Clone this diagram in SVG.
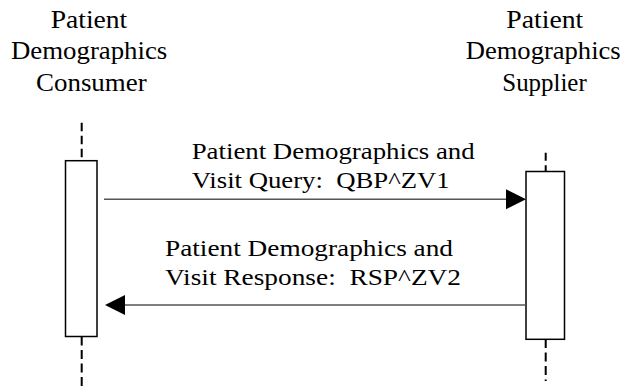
<svg xmlns="http://www.w3.org/2000/svg" width="629" height="386" viewBox="0 0 629 386">
<rect x="0" y="0" width="629" height="386" fill="#fff"/>
<g id="consumer">
  <text x="50.7" y="28" font-family="Liberation Serif" font-size="25" textLength="76.6" lengthAdjust="spacingAndGlyphs">Patient</text>
  <text x="11" y="59" font-family="Liberation Serif" font-size="25" textLength="156.3" lengthAdjust="spacingAndGlyphs">Demographics</text>
  <text x="36" y="90.5" font-family="Liberation Serif" font-size="25" textLength="110.7" lengthAdjust="spacingAndGlyphs">Consumer</text>
  <line x1="81.7" y1="122.7" x2="81.7" y2="160.5" stroke="#000" stroke-width="2" stroke-dasharray="8.5 4.5"/>
  <line x1="81.7" y1="336.5" x2="81.7" y2="386" stroke="#000" stroke-width="2" stroke-dasharray="9 4.5"/>
  <rect x="65.5" y="160.7" width="31.5" height="175.8" fill="#fff" stroke="#000" stroke-width="1.5"/>
</g>
<g id="supplier">
  <text x="506.3" y="28" font-family="Liberation Serif" font-size="25" textLength="77" lengthAdjust="spacingAndGlyphs">Patient</text>
  <text x="465.7" y="59" font-family="Liberation Serif" font-size="25" textLength="155" lengthAdjust="spacingAndGlyphs">Demographics</text>
  <text x="502.3" y="90.5" font-family="Liberation Serif" font-size="25" textLength="84.4" lengthAdjust="spacingAndGlyphs">Supplier</text>
  <line x1="545.7" y1="152.7" x2="545.7" y2="171.5" stroke="#000" stroke-width="2" stroke-dasharray="8 4.5"/>
  <line x1="545.7" y1="339" x2="545.7" y2="381" stroke="#000" stroke-width="2" stroke-dasharray="9 4.5"/>
  <rect x="526" y="171.5" width="38.5" height="167.8" fill="#fff" stroke="#000" stroke-width="1.5"/>
</g>
<g id="connectors">
  <g id="query">
    <line x1="104" y1="199.3" x2="507" y2="199.3" stroke="#555" stroke-width="1.6"/>
    <polygon points="506,189.3 526,199.3 506,209.3" fill="#000"/>
    <text x="191.7" y="158.5" font-family="Liberation Serif" font-size="24" textLength="283" lengthAdjust="spacingAndGlyphs">Patient Demographics and</text>
    <text x="191.7" y="188" font-family="Liberation Serif" font-size="24" textLength="258" lengthAdjust="spacingAndGlyphs">Visit Query:&#160; QBP^ZV1</text>
  </g>
  <g id="response">
    <line x1="526" y1="305" x2="124" y2="305" stroke="#555" stroke-width="1.6"/>
    <polygon points="125,295 105,305 125,315" fill="#000"/>
    <text x="165" y="256" font-family="Liberation Serif" font-size="24" textLength="288" lengthAdjust="spacingAndGlyphs">Patient Demographics and</text>
    <text x="165" y="285" font-family="Liberation Serif" font-size="24" textLength="296" lengthAdjust="spacingAndGlyphs">Visit Response:&#160; RSP^ZV2</text>
  </g>
</g>
</svg>
